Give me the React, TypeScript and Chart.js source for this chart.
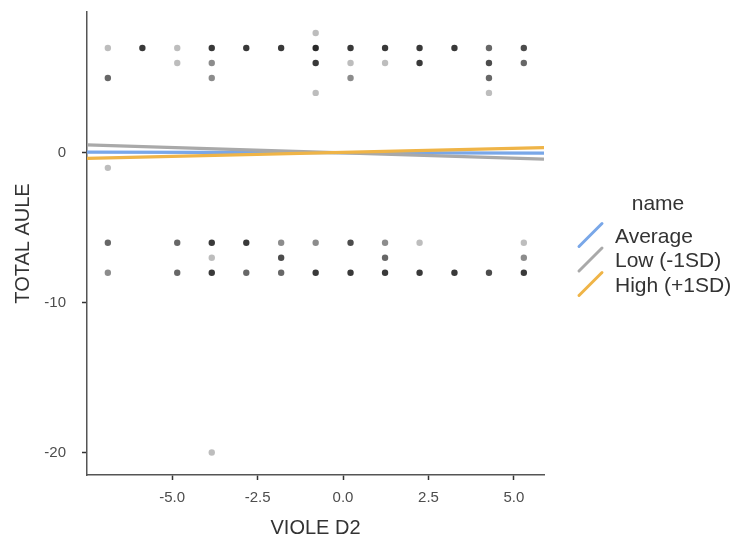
import React, { useEffect, useRef } from "react";
import { Chart, registerables } from "chart.js";

Chart.register(...registerables);

// ---- data ----
const X_TICKS = [-5, -2.5, 0, 2.5, 5];
const Y_TICKS = [-20, -10, 0];

// scatter points (x, y, number of overlapping observations)
const pointX = [
  -0.8,
  -6.88, -5.87, -4.85, -3.84, -2.83, -1.81, -0.8, 0.22, 1.23, 2.24, 3.26, 4.27, 5.29,
  -4.85, -3.84, -0.8, 0.22, 1.23, 2.24, 4.27, 5.29,
  -6.88, -3.84, 0.22, 4.27,
  -0.8, 4.27,
  -6.88,
  -6.88, -4.85, -3.84, -2.83, -1.81, -0.8, 0.22, 1.23, 2.24, 5.29,
  -3.84, -1.81, 1.23, 5.29,
  -6.88, -4.85, -3.84, -2.83, -1.81, -0.8, 0.22, 1.23, 2.24, 3.26, 4.27, 5.29,
  -3.84,
];
const pointY = [
  8,
  7, 7, 7, 7, 7, 7, 7, 7, 7, 7, 7, 7, 7,
  6, 6, 6, 6, 6, 6, 6, 6,
  5, 5, 5, 5,
  4, 4,
  -1,
  -6, -6, -6, -6, -6, -6, -6, -6, -6, -6,
  -7, -7, -7, -7,
  -8, -8, -8, -8, -8, -8, -8, -8, -8, -8, -8, -8,
  -20,
];
const pointCount = [
  1,
  1, 5, 1, 5, 5, 5, 6, 5, 5, 5, 5, 3, 4,
  1, 2, 5, 1, 1, 5, 4, 3,
  3, 2, 2, 3,
  1, 1,
  1,
  3, 3, 5, 5, 2, 2, 4, 2, 1, 1,
  1, 4, 3, 2,
  2, 3, 5, 3, 3, 5, 5, 5, 5, 5, 4, 5,
  1,
];

// regression lines for moderator levels
const GROUPS = ["Average", "Low (-1SD)", "High (+1SD)"];
const GROUP_COLORS = ["#79a7e8", "#a9a9a9", "#efb447"];
const LINE_X = [-7.49, 5.88];
const LINE_LEFT_Y = [0.05, 0.53, -0.37];
const LINE_RIGHT_Y = [-0.02, -0.42, 0.35];

const FONT = "'Liberation Sans', Arial, sans-serif";

const legendPlugin = {
  id: "customLegend",
  afterDraw(chart: any) {
    const ctx = chart.ctx as CanvasRenderingContext2D;
    ctx.save();
    ctx.fillStyle = "#333333";
    ctx.font = `21px ${FONT}`;
    ctx.textAlign = "center";
    ctx.textBaseline = "middle";
    ctx.fillText("name", 658, 204);
    ctx.textAlign = "left";
    GROUPS.forEach((g, i) => {
      const cy = 235 + i * 24.5;
      ctx.strokeStyle = GROUP_COLORS[i];
      ctx.lineWidth = 3;
      ctx.lineCap = "round";
      ctx.beginPath();
      ctx.moveTo(579, cy + 11.5);
      ctx.lineTo(602, cy - 11.5);
      ctx.stroke();
      ctx.fillStyle = "#333333";
      ctx.fillText(g, 615, cy + 2);
    });
    ctx.restore();
  },
};

export default function App() {
  const ref = useRef<HTMLCanvasElement | null>(null);

  useEffect(() => {
    document.body.style.margin = "0";
    if (!ref.current) return;

    const scatterData = pointX.map((x, i) => ({ x, y: pointY[i], n: pointCount[i] }));

    const lineSets = GROUPS.map((g, i) => ({
      type: "line" as const,
      label: g,
      data: [
        { x: LINE_X[0], y: LINE_LEFT_Y[i] },
        { x: LINE_X[1], y: LINE_RIGHT_Y[i] },
      ],
      borderColor: GROUP_COLORS[i],
      borderWidth: 3.2,
      pointRadius: 0,
      fill: false,
      order: 3 - i,
    }));

    const chart = new Chart(ref.current, {
      type: "scatter",
      data: {
        datasets: [
          {
            type: "scatter" as const,
            label: "points",
            data: scatterData as any,
            pointRadius: 3.2,
            pointBorderWidth: 0,
            pointBackgroundColor: (c: any) => {
              const n = c.raw ? c.raw.n : 1;
              return `rgba(0,0,0,${1 - Math.pow(0.74, n)})`;
            },
            order: 10,
          } as any,
          ...lineSets,
        ],
      },
      options: {
        animation: false,
        responsive: false,
        devicePixelRatio: 1,
        layout: { padding: { top: 12, right: 200, left: 0, bottom: 0 } },
        plugins: { legend: { display: false }, tooltip: { enabled: false } },
        scales: {
          x: {
            type: "linear",
            min: LINE_X[0],
            max: LINE_X[1],
            afterBuildTicks: (s: any) => {
              s.ticks = X_TICKS.map((v) => ({ value: v }));
            },
            afterFit: (s: any) => {
              s.height = 66;
              s.paddingLeft = 0;
              s.paddingRight = 0;
            },
            ticks: {
              color: "#4d4d4d",
              font: { size: 15, family: FONT },
              padding: 9,
              maxRotation: 0,
              callback: (v: any) => Number(v).toFixed(1),
            },
            grid: {
              display: true,
              drawOnChartArea: false,
              drawTicks: true,
              tickLength: 5,
              color: "#333333",
              tickWidth: 1.5,
            },
            border: { display: true, color: "#555555", width: 1.5 },
            title: {
              display: true,
              text: "VIOLE D2",
              color: "#333333",
              font: { size: 20, family: FONT },
              padding: { top: 0, bottom: 1 },
            },
          },
          y: {
            type: "linear",
            min: -21.5,
            max: 9.4,
            afterBuildTicks: (s: any) => {
              s.ticks = Y_TICKS.map((v) => ({ value: v }));
            },
            afterFit: (s: any) => {
              s.width = 87;
              s.paddingTop = 0;
              s.paddingBottom = 0;
            },
            ticks: {
              color: "#4d4d4d",
              font: { size: 15, family: FONT },
              padding: 16,
              callback: (v: any) => String(v),
            },
            grid: {
              display: true,
              drawOnChartArea: false,
              drawTicks: true,
              tickLength: 5,
              color: "#333333",
              tickWidth: 1.5,
            },
            border: { display: true, color: "#555555", width: 1.5 },
            title: {
              display: true,
              text: "TOTAL AULE",
              color: "#333333",
              font: { size: 20, family: FONT },
              padding: { top: 11, bottom: 0 },
            },
          },
        },
      },
      plugins: [legendPlugin],
    });

    return () => chart.destroy();
  }, []);

  return (
    <div style={{ width: 744, height: 541, position: "relative" }}>
      <canvas ref={ref} width={744} height={541} style={{ width: 744, height: 541, display: "block" }} />
    </div>
  );
}
